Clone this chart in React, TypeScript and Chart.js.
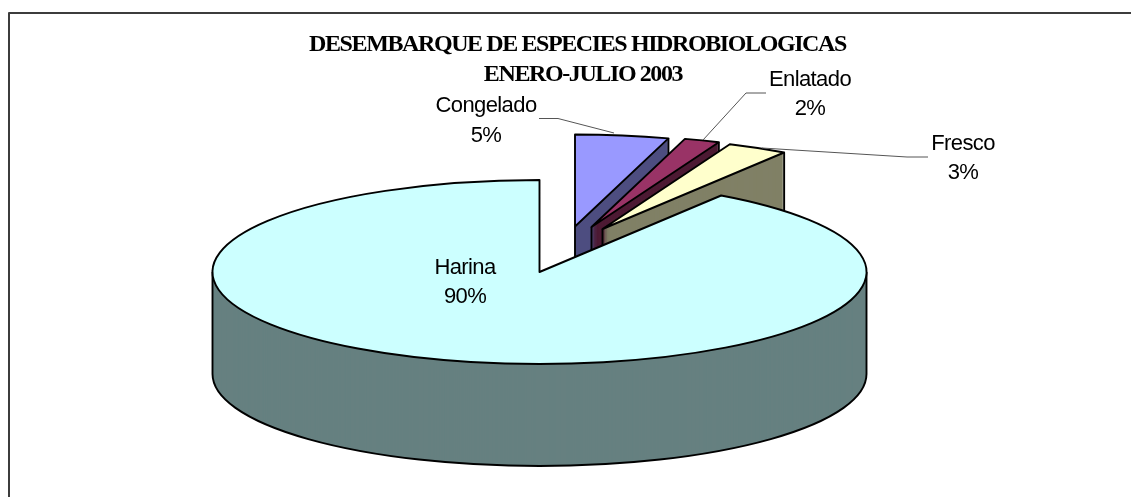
import React, { useEffect, useRef } from "react";
import { Chart, registerables } from "chart.js";

Chart.register(...registerables);

const categories = ["Congelado", "Enlatado", "Fresco", "Harina"];
const values = [4.6, 1.75, 3.0, 90.4];
const percentLabels = ["5%", "2%", "3%", "90%"];
const topColors = ["#9999FF", "#993366", "#FFFFCC", "#CCFFFF"];
const sideColors = ["#4D4D80", "#4D1A33", "#808066", "#668080"];
const titleLines = ["DESEMBARQUE DE ESPECIES HIDROBIOLOGICAS", "ENERO-JULIO 2003"];

const WIDTH = 1131;
const HEIGHT = 497;
const STRETCH_X = 327 / 92;
const DEPTH = 102;
const explode = [
  { dx: 35.5, dy: -45.5 },
  { dx: 52, dy: -45 },
  { dx: 63, dy: -43 },
  { dx: 0, dy: 0 },
];
const labelPlacement = [
  { x: 486, y: [112, 142] },
  { x: 810, y: [86, 115] },
  { x: 963, y: [150, 179] },
  { x: 465, y: [274, 303] },
];
const leaders: number[][][] = [
  [[539, 118.5], [558, 118.5], [614, 133]],
  [[766, 93], [746, 93], [703, 140]],
  [[928, 157], [907, 157], [762, 148]],
  [],
];
const titlePlacement = [
  { x: 577.5, y: 51 },
  { x: 583, y: 81 },
];

const pie3d = {
  id: "pie3d",
  beforeDatasetsDraw(chart: any) {
    const ctx = chart.ctx as CanvasRenderingContext2D;
    const arcs = chart.getDatasetMeta(0).data;
    arcs.forEach((el: any, i: number) => {
      const { x, y, startAngle, endAngle, outerRadius } = el.getProps(
        ["x", "y", "startAngle", "endAngle", "outerRadius"],
        true
      );
      const rx = outerRadius * STRETCH_X;
      const ry = outerRadius;
      const ax = x + explode[i].dx;
      const ay = y + explode[i].dy;
      const paintArc = (shift: number) => {
        ctx.save();
        ctx.translate(ax, ay + shift);
        ctx.scale(STRETCH_X, 1);
        ctx.translate(-x, -y);
        el.draw(ctx);
        ctx.restore();
      };

      // side wall: the library's arc repeated downwards in the darker colour
      const base = el.options;
      el.options = { ...base, backgroundColor: sideColors[i], borderWidth: 0 };
      for (let d = DEPTH; d > 0; d--) paintArc(d);

      ctx.strokeStyle = "#000";
      ctx.lineWidth = 1.9;
      ctx.lineJoin = "round";

      // lower rim of the wall (only the front half of the ellipse shows)
      const lo = Math.max(startAngle, 0);
      const hi = Math.min(endAngle, Math.PI);
      if (hi > lo) {
        ctx.beginPath();
        ctx.ellipse(ax, ay + DEPTH, rx, ry, 0, lo, hi);
        ctx.stroke();
      }

      // vertical wall edges
      const verticals: number[][] = [];
      if (startAngle <= 0 && endAngle >= 0) {
        verticals.push([ax + rx, ay], [ax - rx, ay]);
      }
      if (endAngle < 0) {
        verticals.push([ax, ay], [ax + rx * Math.cos(endAngle), ay + ry * Math.sin(endAngle)]);
      }
      verticals.forEach(([vx, vy]) => {
        ctx.beginPath();
        ctx.moveTo(vx, vy);
        ctx.lineTo(vx, vy + DEPTH);
        ctx.stroke();
      });

      // top face
      el.options = { ...base, backgroundColor: topColors[i], borderWidth: 0 };
      paintArc(0);
      el.options = base;
      ctx.beginPath();
      ctx.moveTo(ax, ay);
      ctx.ellipse(ax, ay, rx, ry, 0, startAngle, endAngle);
      ctx.closePath();
      ctx.stroke();
    });
    return false;
  },
  afterDraw(chart: any) {
    const ctx = chart.ctx as CanvasRenderingContext2D;
    ctx.save();

    // chart frame: only the top and left edges fall inside the picture
    ctx.strokeStyle = "#3c3c3c";
    ctx.lineWidth = 2;
    ctx.beginPath();
    ctx.moveTo(9, HEIGHT);
    ctx.lineTo(9, 13);
    ctx.lineTo(WIDTH, 13);
    ctx.stroke();

    // leader lines
    ctx.strokeStyle = "#555555";
    ctx.lineWidth = 1;
    leaders.forEach((pts) => {
      if (!pts.length) return;
      ctx.beginPath();
      pts.forEach(([px, py], k) => (k ? ctx.lineTo(px, py) : ctx.moveTo(px, py)));
      ctx.stroke();
    });

    // data labels
    ctx.fillStyle = "#000";
    ctx.textAlign = "center";
    ctx.textBaseline = "alphabetic";
    ctx.font = '22px "Liberation Sans"';
    (ctx as any).letterSpacing = "-0.6px";
    categories.forEach((name, i) => {
      ctx.fillText(name, labelPlacement[i].x, labelPlacement[i].y[0]);
      ctx.fillText(percentLabels[i], labelPlacement[i].x, labelPlacement[i].y[1]);
    });

    // title
    ctx.font = 'bold 24px "Liberation Serif"';
    (ctx as any).letterSpacing = "-1.4px";
    titleLines.forEach((line, i) => {
      ctx.fillText(line, titlePlacement[i].x, titlePlacement[i].y);
    });
    ctx.restore();
  },
};

export default function App() {
  const ref = useRef<HTMLCanvasElement>(null);
  useEffect(() => {
    const chart = new Chart(ref.current!, {
      type: "pie",
      data: {
        labels: categories,
        datasets: [{ data: values, backgroundColor: topColors, borderWidth: 0 }],
      },
      options: {
        animation: false,
        responsive: false,
        layout: { padding: { left: 212, right: 264, top: 180, bottom: 133 } },
        plugins: { legend: { display: false }, title: { display: false }, tooltip: { enabled: false } },
      },
      plugins: [pie3d],
    });
    return () => chart.destroy();
  }, []);
  return (
    <canvas
      ref={ref}
      width={WIDTH}
      height={HEIGHT}
      style={{ position: "absolute", left: 0, top: 0, width: WIDTH, height: HEIGHT, background: "#fff" }}
    />
  );
}
